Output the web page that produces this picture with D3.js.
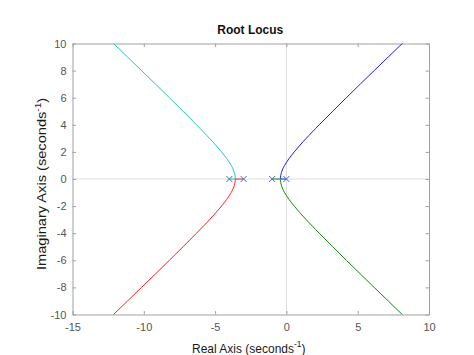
<!DOCTYPE html>
<html><head><meta charset="utf-8">
<script src="https://cdn.jsdelivr.net/npm/d3@7"></script>
<style>
html,body{margin:0;padding:0;background:#fff;}
svg{display:block;font-family:"Liberation Sans",Arial,Helvetica,sans-serif;}
</style></head>
<body>
<svg id="chart" width="474" height="355"></svg>
<script>
// Poles (open-loop)
const poles = [0, -1, -3, -4];
// Branch points [real, imag] read along each locus branch
const imagSamples = [0, 0.1, 0.25, 0.5, 0.75, 1, 1.5, 2, 2.5, 3, 4, 5, 6, 7, 8, 9, 10, 11];
const rightReal = [-0.419, -0.416, -0.399, -0.342, -0.25, -0.129, 0.179, 0.550, 0.958, 1.391, 2.301, 3.244, 4.205, 5.176, 6.155, 7.138, 8.124, 9.113];
const leftReal  = [-3.581, -3.584, -3.601, -3.658, -3.75, -3.871, -4.179, -4.550, -4.958, -5.391, -6.301, -7.244, -8.205, -9.176, -10.155, -11.138, -12.124, -13.113];
const xTicks = [-15, -10, -5, 0, 5, 10];
const yTicks = [-10, -8, -6, -4, -2, 0, 2, 4, 6, 8, 10];

const branches = [
  {color: "#1a1aff", start: 0,  real: rightReal, sign: 1},
  {color: "#108a10", start: -1, real: rightReal, sign: -1},
  {color: "#20c4c4", start: -4, real: leftReal, sign: 1},
  {color: "#ff2020", start: -3, real: leftReal, sign: -1}
];

const svg = d3.select("#chart");
const L = 72.5, R = 429, T = 43.5, B = 314.5;
const x = d3.scaleLinear().domain([-15, 10]).range([L, R]);
const y = d3.scaleLinear().domain([-10, 10]).range([B, T]);

svg.append("defs").append("clipPath").attr("id", "clip")
  .append("rect").attr("x", L).attr("y", T).attr("width", R - L).attr("height", B - T);

// zero lines
svg.append("line").attr("x1", x(0)).attr("x2", x(0)).attr("y1", T).attr("y2", B)
  .attr("stroke", "#dcdcdc").attr("stroke-width", 1);
svg.append("line").attr("x1", L).attr("x2", R).attr("y1", y(0)).attr("y2", y(0))
  .attr("stroke", "#dcdcdc").attr("stroke-width", 1);

const axisColor = "#a0a0a0", textColor = "#555555";
const tl = 3.5;
const fmt = d => d < 0 ? "-" + Math.abs(d) : String(d);
// Axes
const gx = svg.append("g").attr("transform", `translate(0,${B})`)
  .call(d3.axisBottom(x).tickValues(xTicks).tickSize(-tl).tickPadding(9).tickSizeOuter(0).tickFormat(fmt));
const gxt = svg.append("g").attr("transform", `translate(0,${T})`)
  .call(d3.axisTop(x).tickValues(xTicks).tickSize(-tl).tickFormat("").tickSizeOuter(0));
const gy = svg.append("g").attr("transform", `translate(${L},0)`)
  .call(d3.axisLeft(y).tickValues(yTicks).tickSize(-tl).tickPadding(6).tickSizeOuter(0).tickFormat(fmt));
const gyr = svg.append("g").attr("transform", `translate(${R},0)`)
  .call(d3.axisRight(y).tickValues(yTicks).tickSize(-tl).tickFormat("").tickSizeOuter(0));
[gx, gxt, gy, gyr].forEach(g => {
  g.select(".domain").attr("stroke", axisColor);
  g.selectAll(".tick line").attr("stroke", axisColor);
  g.selectAll("text").attr("fill", textColor).attr("font-size", 11)
    .attr("font-family", "Liberation Sans, Arial, sans-serif");
});

// Branches
const line = d3.line().x(d => x(d[0])).y(d => y(d[1])).curve(d3.curveCatmullRom);
const plot = svg.append("g").attr("clip-path", "url(#clip)");
branches.forEach(b => {
  const pts = [[b.start, 0]].concat(imagSamples.map((v, i) => [b.real[i], b.sign * v]));
  plot.append("path")
    .attr("d", d3.line().x(d => x(d[0])).y(d => y(d[1]))(pts.slice(0, 2)))
    .attr("fill", "none").attr("stroke", b.color).attr("stroke-width", 1);
  plot.append("path")
    .attr("d", line(pts.slice(1)))
    .attr("fill", "none").attr("stroke", b.color).attr("stroke-width", 1);
});

// Pole markers
const ms = 3;
svg.append("g").selectAll("path").data(poles).join("path")
  .attr("d", p => `M${x(p)-ms},${y(0)-ms}L${x(p)+ms},${y(0)+ms}M${x(p)-ms},${y(0)+ms}L${x(p)+ms},${y(0)-ms}`)
  .attr("stroke", "#4070b0").attr("stroke-width", 1).attr("fill", "none");

// Title
svg.append("text").attr("transform", `translate(${(L + R) / 2 - 0.5},34.3) scale(1,1.1)`)
  .attr("text-anchor", "middle")
  .attr("font-size", 12).attr("font-weight", "bold").attr("fill", "#111").text("Root Locus");

// X label
const xl = svg.append("text").attr("transform", `translate(${(L + R) / 2 - 2},352.5) scale(1,1.1)`)
  .attr("text-anchor", "middle").attr("font-size", 12).attr("fill", "#1a1a1a");
xl.append("tspan").text("Real Axis (seconds");
xl.append("tspan").attr("font-size", 8.5).attr("dy", -5).text("-1");
xl.append("tspan").attr("dy", 5).text(")");

// Y label
const yl = svg.append("text").attr("transform", `translate(46,184) rotate(-90) scale(1.17,1)`)
  .attr("text-anchor", "middle").attr("font-size", 12.5).attr("fill", "#1a1a1a");
yl.append("tspan").text("Imaginary Axis (seconds");
yl.append("tspan").attr("font-size", 8.5).attr("dy", -5).text("-1");
yl.append("tspan").attr("dy", 5).text(")");
</script>
</body></html>
